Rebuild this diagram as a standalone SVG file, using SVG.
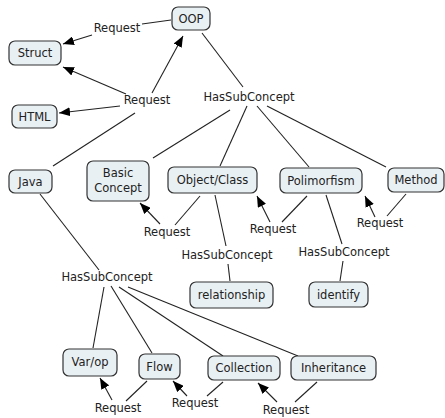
<svg xmlns="http://www.w3.org/2000/svg" width="445" height="418" viewBox="0 0 445 418">
<defs>
<marker id="arr" markerUnits="userSpaceOnUse" markerWidth="11" markerHeight="9" refX="11" refY="4.5" orient="auto">
<path d="M0,0 L11,4.5 L0,9 z" fill="#000"/>
</marker>
<style>
.n rect{fill:#e9f0f4;stroke:#333;stroke-width:1.2}
text{font-family:"DejaVu Sans",Verdana,sans-serif;font-size:11.5px;fill:#222;text-anchor:middle;dominant-baseline:central}
.c line{stroke:#222;stroke-width:1.1}
.c .a{marker-end:url(#arr)}
</style>
</defs>
<rect width="445" height="418" fill="#fff"/>
<g class="c" id="connectors">
<line x1="171" y1="20" x2="142" y2="24"/>
<line class="a" x1="92" y1="35" x2="63" y2="44"/>
<line class="a" x1="152" y1="93" x2="183" y2="36"/>
<line class="a" x1="126" y1="94" x2="63" y2="67"/>
<line class="a" x1="120" y1="106" x2="59" y2="113"/>
<line x1="53" y1="166" x2="135" y2="113"/>
<line x1="202" y1="33" x2="243" y2="87"/>
<line x1="230" y1="110" x2="153" y2="158"/>
<line x1="247" y1="106" x2="220" y2="166"/>
<line x1="257" y1="106" x2="309" y2="167"/>
<line x1="267" y1="106" x2="386" y2="167"/>
<line x1="200" y1="196" x2="175" y2="225"/>
<line class="a" x1="160" y1="224" x2="140" y2="203"/>
<line x1="215" y1="195" x2="226" y2="246"/>
<line x1="228" y1="264" x2="230" y2="281"/>
<line x1="307" y1="196" x2="282" y2="222"/>
<line class="a" x1="270" y1="222" x2="257" y2="196"/>
<line x1="326" y1="195" x2="342" y2="244"/>
<line x1="343" y1="261" x2="340" y2="281"/>
<line x1="406" y1="194" x2="387" y2="216"/>
<line class="a" x1="375" y1="217" x2="365" y2="196"/>
<line x1="40" y1="194" x2="99" y2="270"/>
<line x1="104" y1="287" x2="93" y2="348"/>
<line x1="111" y1="286" x2="152" y2="353"/>
<line x1="119" y1="287" x2="223" y2="356"/>
<line x1="128" y1="287" x2="298" y2="356"/>
<line x1="147" y1="381" x2="126" y2="401"/>
<line class="a" x1="112" y1="400" x2="100" y2="378"/>
<line x1="223" y1="382" x2="207" y2="396"/>
<line class="a" x1="187" y1="396" x2="173" y2="381"/>
<line x1="317" y1="382" x2="295" y2="402"/>
<line class="a" x1="277" y1="402" x2="258" y2="383"/>
</g>
<g id="labels">
<text x="117" y="28">Request</text>
<text x="147" y="100">Request</text>
<text x="249" y="97">HasSubConcept</text>
<text x="167" y="232">Request</text>
<text x="227" y="255">HasSubConcept</text>
<text x="273" y="229">Request</text>
<text x="344" y="252">HasSubConcept</text>
<text x="380" y="223">Request</text>
<text x="107" y="277">HasSubConcept</text>
<text x="118" y="408">Request</text>
<text x="195" y="403">Request</text>
<text x="286" y="410">Request</text>
</g>
<g class="n" id="oop"><rect x="172" y="7" width="38" height="23" rx="6"/><text x="191" y="18.5">OOP</text></g>
<g class="n" id="struct"><rect x="9" y="41" width="52" height="24" rx="6"/><text x="35" y="53">Struct</text></g>
<g class="n" id="html"><rect x="12" y="105" width="45" height="23" rx="6"/><text x="34.5" y="116.5">HTML</text></g>
<g class="n" id="java"><rect x="9" y="170" width="43" height="23" rx="6"/><text x="30.5" y="181.5">Java</text></g>
<g class="n" id="basic"><rect x="87" y="161" width="62" height="40" rx="6"/><text x="118" y="173">Basic</text><text x="118" y="187.5">Concept</text></g>
<g class="n" id="objectclass"><rect x="168" y="167" width="89" height="26" rx="6"/><text x="212.5" y="179.5">Object/Class</text></g>
<g class="n" id="polimorfism"><rect x="280" y="168" width="82" height="25" rx="6"/><text x="321" y="180.5">Polimorfism</text></g>
<g class="n" id="method"><rect x="388" y="168" width="56" height="24" rx="6"/><text x="416" y="180">Method</text></g>
<g class="n" id="relationship"><rect x="190" y="282" width="83" height="26" rx="6"/><text x="231.5" y="295">relationship</text></g>
<g class="n" id="identify"><rect x="309" y="282" width="59" height="25" rx="6"/><text x="338.5" y="294.5">identify</text></g>
<g class="n" id="varop"><rect x="63" y="349" width="54" height="27" rx="6"/><text x="90" y="362">Var/op</text></g>
<g class="n" id="flow"><rect x="139" y="354" width="41" height="25" rx="6"/><text x="159.5" y="366.5">Flow</text></g>
<g class="n" id="collection"><rect x="208" y="356" width="72" height="24" rx="6"/><text x="244" y="368">Collection</text></g>
<g class="n" id="inheritance"><rect x="291" y="356" width="85" height="24" rx="6"/><text x="333.5" y="368">Inheritance</text></g>
</svg>
